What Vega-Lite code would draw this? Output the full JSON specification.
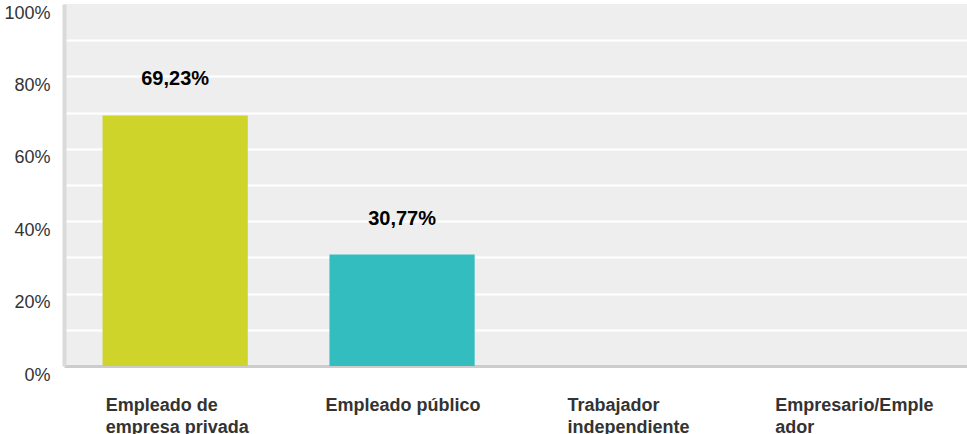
{
  "$schema": "https://vega.github.io/schema/vega-lite/v6.json",
  "width": 903,
  "height": 362,
  "autosize": {"type": "none"},
  "padding": {"left": 64, "top": 4, "right": 0, "bottom": 68},
  "background": "#ffffff",
  "config": {
    "font": "Liberation Sans",
    "view": {"fill": "#eeeeee", "stroke": null}
  },
  "data": {
    "values": [
      {"categoria": "Empleado de empresa privada", "valor": 69.23, "etiqueta": "69,23%"},
      {"categoria": "Empleado público", "valor": 30.77, "etiqueta": "30,77%"},
      {"categoria": "Trabajador independiente", "valor": 0, "etiqueta": ""},
      {"categoria": "Empresario/Empleador", "valor": 0, "etiqueta": ""}
    ]
  },
  "encoding": {
    "x": {
      "field": "categoria",
      "type": "nominal",
      "sort": null,
      "title": null,
      "scale": {"paddingInner": 0.36, "paddingOuter": 0.17},
      "axis": {
        "labelAngle": 0,
        "labelAlign": "left",
        "labelBaseline": "alphabetic",
        "labelPadding": 44,
        "labelFontSize": 18,
        "labelFontWeight": "bold",
        "labelColor": "#333333",
        "labelLineHeight": 22,
        "labelLimit": 300,
        "ticks": false,
        "tickSize": 0,
        "domainColor": "#cccccc",
        "domainWidth": 3,
        "labelExpr": "datum.value == 'Empleado de empresa privada' ? ['Empleado de', 'empresa privada'] : datum.value == 'Trabajador independiente' ? ['Trabajador', 'independiente'] : datum.value == 'Empresario/Empleador' ? ['Empresario/Emple', 'ador'] : datum.value",
        "labelOffset": {"expr": "datum.value == 'Empleado de empresa privada' ? -69.5 : datum.value == 'Empleado público' ? -76.5 : datum.value == 'Trabajador independiente' ? -61.5 : -80.5"}
      }
    },
    "y": {
      "field": "valor",
      "type": "quantitative",
      "title": null,
      "scale": {"domain": [0, 100], "nice": false},
      "axis": {
        "values": [0, 10, 20, 30, 40, 50, 60, 70, 80, 90, 100],
        "labelExpr": "datum.value % 20 == 0 ? datum.value + '%' : ''",
        "labelFontSize": 18,
        "labelColor": "#333333",
        "labelPadding": 14,
        "labelOffset": 9,
        "ticks": false,
        "tickSize": 0,
        "domainColor": "#dadada",
        "domainWidth": 4,
        "gridColor": "#ffffff",
        "gridWidth": 2,
        "gridOpacity": {"condition": {"test": "datum.value == 100 || datum.value == 0", "value": 0}, "value": 1}
      }
    }
  },
  "layer": [
    {
      "mark": {"type": "bar"},
      "encoding": {
        "color": {
          "field": "categoria",
          "type": "nominal",
          "sort": null,
          "legend": null,
          "scale": {
            "domain": ["Empleado de empresa privada", "Empleado público", "Trabajador independiente", "Empresario/Empleador"],
            "range": ["#cfd42a", "#33bdbe", "#e36f3c", "#7f6bb3"]
          }
        }
      }
    },
    {
      "transform": [{"filter": "datum.valor > 0"}],
      "mark": {"type": "text", "fontSize": 20, "fontWeight": "bold", "color": "#000000", "baseline": "alphabetic", "dy": -30},
      "encoding": {
        "text": {"field": "etiqueta", "type": "nominal"}
      }
    }
  ]
}
